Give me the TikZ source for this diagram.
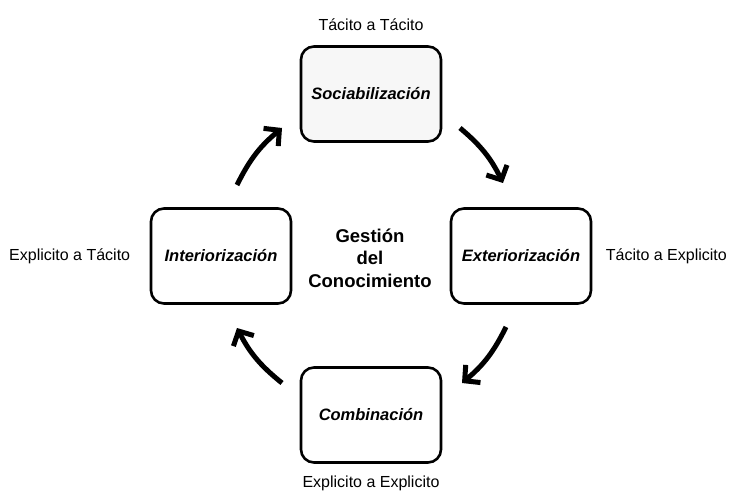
\documentclass[tikz,border=0pt]{standalone}
\usepackage{fontspec}
\setmainfont{Liberation Sans}
\usetikzlibrary{arrows.meta,positioning}

\begin{document}
\begin{tikzpicture}[x=1pt,y=-1pt,
  fase/.style={draw,line width=2.6pt,rounded corners=13pt,minimum width=140pt,minimum height=95pt,
    font=\fontsize{16.5}{18}\selectfont\bfseries\itshape},
  modo/.style={font=\fontsize{16}{18}\selectfont},
  giro/.style={line width=5pt,-{Straight Barb[length=11pt,width=23pt]}}]
  \path[use as bounding box] (0,0) rectangle (731,497);

  \node[fase,fill=gray!6] (soc) at (371,94) {Sociabilización};
  \node[fase] (ext) at (521,256) {Exteriorización};
  \node[fase] (com) at (371,415) {Combinación};
  \node[fase] (int) at (221,256) {Interiorización};
  \node[font=\fontsize{18.5}{22.5}\selectfont\bfseries,align=center] (gc) at (370,258) {Gestión\\del\\Conocimiento};

  \node[modo,above=11pt of soc] (tt) {Tácito a Tácito};
  \node[modo,right=10pt of ext] (te) {Tácito a Explicito};
  \node[modo,below=9pt of com] (ee) {Explicito a Explicito};
  \node[modo,left=16pt of int] (et) {Explicito a Tácito};

  \coordinate (a1) at (460,128);
  \coordinate (b1) at (503,183);
  \coordinate (a2) at (506,327);
  \coordinate (b2) at (462,383);
  \coordinate (a3) at (282,383);
  \coordinate (b3) at (237,328);
  \coordinate (a4) at (237,185);
  \coordinate (b4) at (282,128);
  \draw[giro] (a1) to[bend left=12] (b1);
  \draw[giro] (a2) to[bend left=12] (b2);
  \draw[giro] (a3) to[bend left=12] (b3);
  \draw[giro] (a4) to[bend left=12] (b4);
\end{tikzpicture}
\end{document}
